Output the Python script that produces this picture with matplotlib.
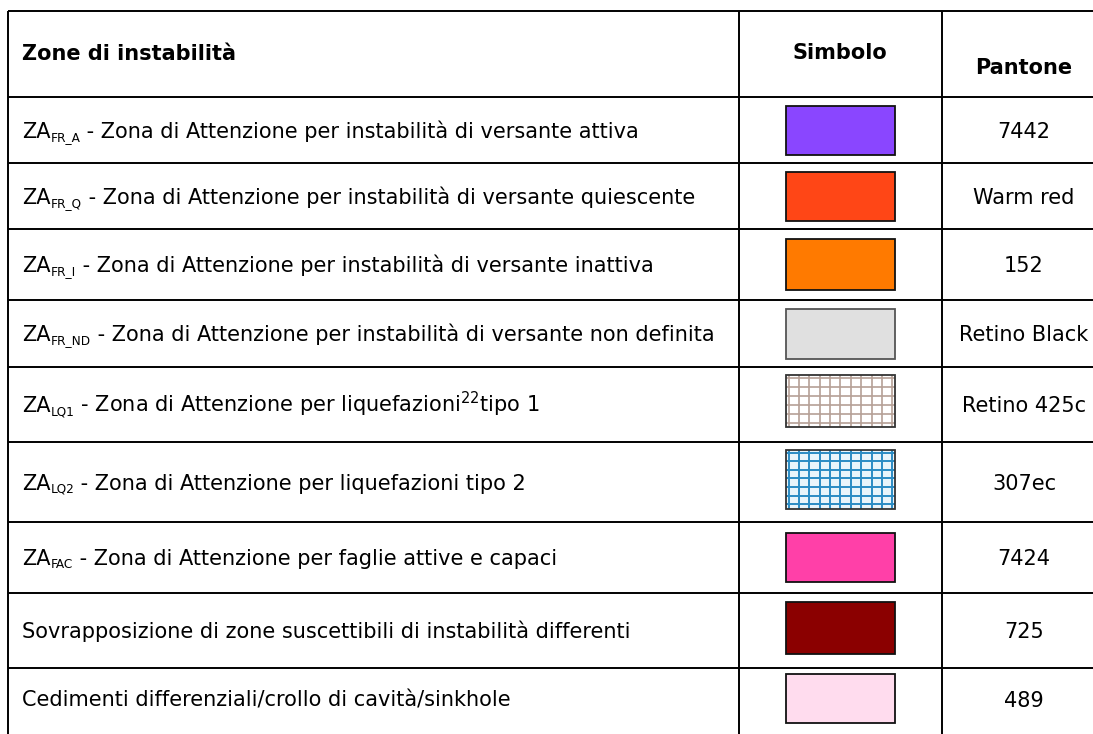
import matplotlib
matplotlib.use("Agg")
import matplotlib.pyplot as plt
from matplotlib.patches import Rectangle
import numpy as np

# ---------------- data ----------------
header = ["Zone di instabilità", "Simbolo", "Pantone"]
desc_prefix = ["ZA", "ZA", "ZA", "ZA", "ZA", "ZA", "ZA", "", ""]
desc_sub = ["FR_A", "FR_Q", "FR_I", "FR_ND", "LQ1", "LQ2", "FAC", "", ""]
desc_text = [
    " - Zona di Attenzione per instabilità di versante attiva",
    " - Zona di Attenzione per instabilità di versante quiescente",
    " - Zona di Attenzione per instabilità di versante inattiva",
    " - Zona di Attenzione per instabilità di versante non definita",
    r" - Zona di Attenzione per liquefazioni$^{22}$tipo 1",
    " - Zona di Attenzione per liquefazioni tipo 2",
    " - Zona di Attenzione per faglie attive e capaci",
    "Sovrapposizione di zone suscettibili di instabilità differenti",
    "Cedimenti differenziali/crollo di cavità/sinkhole",
]
pantone = ["7442", "Warm red", "152", "Retino Black", "Retino 425c",
           "307ec", "7424", "725", "489"]
fill_colors = ["#8a46ff", "#ff4616", "#ff7a00", "#e0e0e0", "#ffffff",
               "#eaf5fb", "#ff40a8", "#8b0000", "#ffdcee"]
grid_colors = [None, None, None, None, "#b5a096", "#2b8cc4", None, None, None]
edge_colors = ["#111111", "#111111", "#111111", "#555555", "#333333",
               "#333333", "#111111", "#111111", "#111111"]

# ---------------- layout ----------------
W, H = 1093, 734
fig = plt.figure(figsize=(W / 100, H / 100), dpi=100)
ax = fig.add_axes([0, 0, 1, 1])
ax.set_xlim(0, W)
ax.set_ylim(H, 0)
ax.axis("off")
renderer = fig.canvas.get_renderer()

row_edges = [11, 97, 163, 229, 300, 367, 442, 522, 593, 668, H + 5]
x_left, x_c1, x_c2 = 7.5, 739, 942
lw = 1.4
line_kw = dict(color="black", linewidth=lw, solid_capstyle="butt")

for y in row_edges[:-1]:
    ax.plot([x_left, W + 5], [y, y], **line_kw)
for x in (x_left, x_c1, x_c2):
    ax.plot([x, x], [row_edges[0], H + 5], **line_kw)

fs = 15
sym_cx = 840
pan_cx = 1024
ax.text(22, 54, header[0], fontsize=fs, fontweight="bold", va="center", ha="left")
ax.text(sym_cx, 53, header[1], fontsize=fs, fontweight="bold", va="center", ha="center")
ax.text(pan_cx, 68, header[2], fontsize=fs, fontweight="bold", va="center", ha="center")

sw_w = 109
sw_h = [49, 49, 51, 50, 52, 59, 49, 52, 49]
sw_off = [0, 0, 0, 0, -4, -3, 0, -3, -1]

narrow = ["Liberation Sans Narrow", "DejaVu Sans"]


def cap_px(size):
    return 0.73 * size * 100 / 72


for i in range(len(desc_text)):
    y0, y1 = row_edges[i + 1], row_edges[i + 2]
    is_last = i == len(desc_text) - 1
    cy = 699 if is_last else (y0 + y1) / 2
    fam = narrow if is_last else ["DejaVu Sans"]
    tfs = 15 if is_last else fs
    base = cy + cap_px(tfs) / 2
    x = 22
    if desc_prefix[i]:
        t = ax.text(x, base, desc_prefix[i], fontsize=tfs, va="baseline",
                    ha="left", family=fam)
        x += t.get_window_extent(renderer).width
        t = ax.text(x, base + 3, desc_sub[i], fontsize=tfs * 0.58,
                    va="baseline", ha="left", family=fam)
        x += t.get_window_extent(renderer).width
    ax.text(x, base, desc_text[i], fontsize=tfs, va="baseline", ha="left",
            family=fam)
    ax.text(pan_cx, base, pantone[i], fontsize=tfs, va="baseline",
            ha="center", family=fam)

    h = sw_h[i]
    sx = sym_cx - sw_w / 2
    sy = cy - h / 2 + sw_off[i]
    ax.add_patch(Rectangle((sx, sy), sw_w, h, facecolor=fill_colors[i],
                           edgecolor="none", zorder=2))
    gc = grid_colors[i]
    if gc is not None:
        glw = 1.2 if i == 4 else 1.4
        dx = 10.4
        dy = 9.0 if i == 4 else 8.6
        xs = np.arange(sx + 3, sx + sw_w, dx)
        ys = np.arange(sy + 3, sy + h, dy)
        ax.vlines(xs, sy, sy + h, colors=gc, linewidth=glw, zorder=3)
        ax.hlines(ys, sx, sx + sw_w, colors=gc, linewidth=glw, zorder=3)
    ax.add_patch(Rectangle((sx, sy), sw_w, h, facecolor="none",
                           edgecolor=edge_colors[i], linewidth=1.3, zorder=4))

fig.savefig("out.png", dpi=100, facecolor="white")
